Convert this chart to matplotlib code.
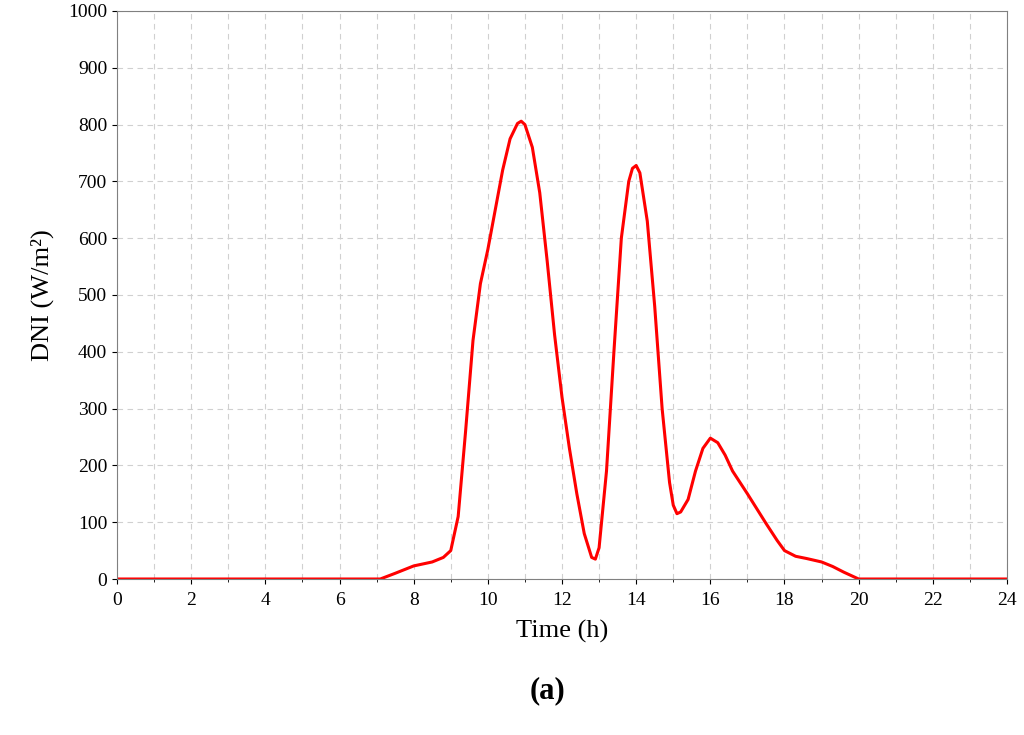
import matplotlib
matplotlib.use("Agg")
import matplotlib.pyplot as plt
import numpy as np

plt.rcParams['font.family'] = ['Liberation Serif', 'DejaVu Serif']

time_h = [0, 1, 2, 3, 4, 5, 6, 7, 7.1, 7.5, 8, 8.5, 8.8, 9, 9.2, 9.4, 9.6, 9.8, 10, 10.2, 10.4, 10.6, 10.8, 10.9, 11.0, 11.2, 11.4, 11.6, 11.8, 12, 12.2, 12.4, 12.6, 12.8, 12.9, 13.0, 13.2, 13.4, 13.6, 13.8, 13.9, 14, 14.1, 14.3, 14.5, 14.7, 14.9, 15.0, 15.1, 15.2, 15.4, 15.6, 15.8, 16, 16.2, 16.4, 16.6, 17, 17.5, 17.8, 18, 18.3, 18.6, 19, 19.3, 19.6, 20, 21, 22, 23, 24]
dni = [0, 0, 0, 0, 0, 0, 0, 0, 0, 10, 23, 30, 38, 50, 110, 260, 420, 520, 580, 650, 720, 775, 802, 806, 800, 760, 680, 560, 430, 320, 230, 150, 80, 38, 35, 55, 190, 400, 600, 700, 723, 728, 715, 630, 480, 300, 170, 130, 115, 118, 140, 190, 230, 248, 240, 218, 190, 150, 98, 68, 50, 40, 36, 30, 22, 12, 0, 0, 0, 0, 0]

fig = plt.figure(figsize=(10.24, 7.35), dpi=100)
ax = fig.add_axes([117/1024, 1-579/735, 890/1024, 568/735])
ax.plot(time_h, dni, color='#ff0000', lw=2.2)
ax.set_xlim(0, 24)
ax.set_ylim(0, 1000)
ax.set_xticks(np.arange(0, 25, 2))
ax.set_xticks(np.arange(0, 25, 1), minor=True)
ax.set_yticks(np.arange(0, 1001, 100))
ax.grid(True, which='both', axis='x', ls=(0, (5, 4)), color='#d0d0d0', lw=0.8)
ax.grid(True, which='major', axis='y', ls=(0, (5, 4)), color='#d0d0d0', lw=0.8)
ax.tick_params(labelsize=14, direction='out')
ax.tick_params(axis='x', pad=6)
ax.set_xlabel('Time (h)', fontsize=19, labelpad=8)
ax.set_ylabel('DNI (W/m²)', fontsize=19, labelpad=10)
for s in ax.spines.values():
    s.set_color('#808080')
fig.text(0.535, 0.05, '(a)', fontsize=22, fontweight='bold', ha='center')
fig.savefig('out.png', dpi=100)
